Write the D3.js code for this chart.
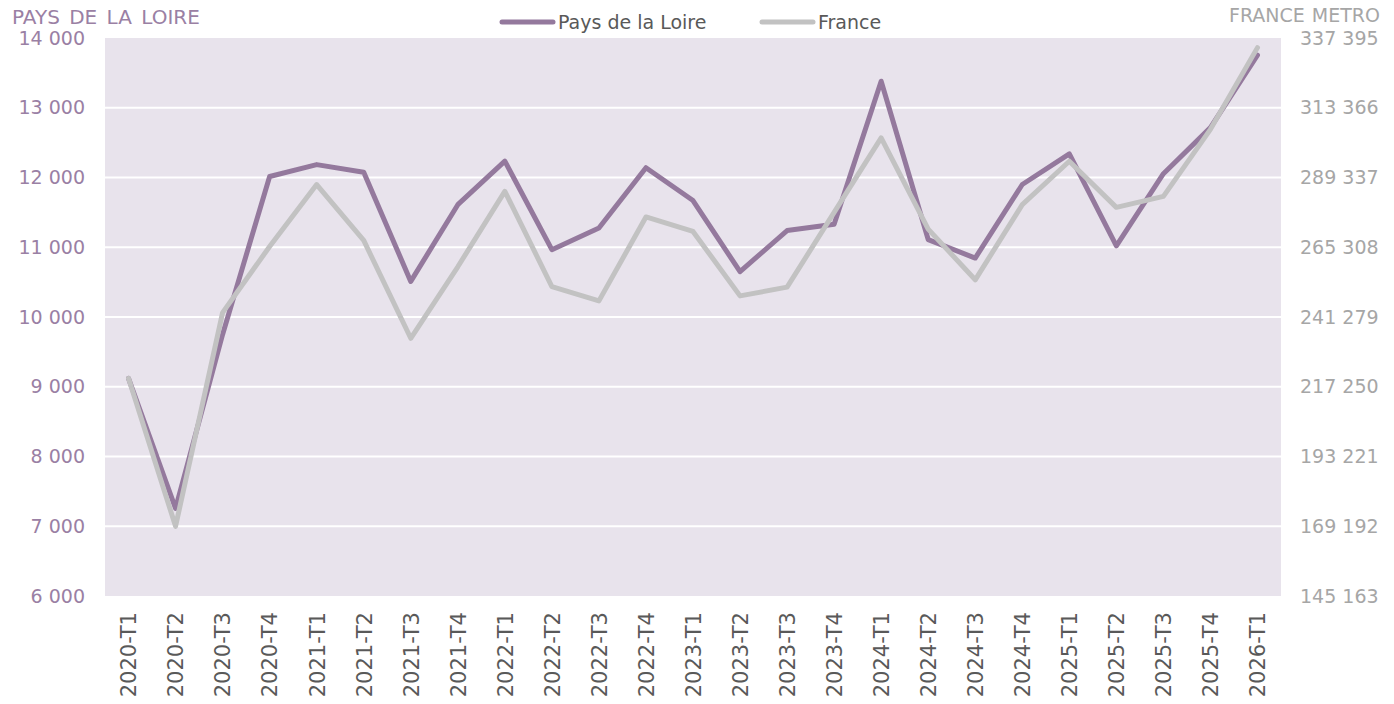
<!DOCTYPE html>
<html>
<head>
<meta charset="utf-8">
<script src="https://cdn.jsdelivr.net/npm/d3@7"></script>
<style>
  body { margin: 0; background: #fff; }
  text { font-family: "DejaVu Sans", Verdana, sans-serif; }
</style>
</head>
<body>
<div id="chart"></div>
<script>
var quarters = ["2020-T1", "2020-T2", "2020-T3", "2020-T4",
  "2021-T1", "2021-T2", "2021-T3", "2021-T4",
  "2022-T1", "2022-T2", "2022-T3", "2022-T4",
  "2023-T1", "2023-T2", "2023-T3", "2023-T4",
  "2024-T1", "2024-T2", "2024-T3", "2024-T4",
  "2025-T1", "2025-T2", "2025-T3", "2025-T4", "2026-T1"];

var paysLoire = [9120, 7255, 9750, 12015, 12185, 12075, 10510, 11610,
  12235, 10965, 11275, 12140, 11670, 10650, 11240, 11330,
  13380, 11110, 10845, 11900, 12340, 11020, 12055, 12715, 13755];

var france = [220160, 169170, 242790, 265570, 286890, 267660, 233950, 258580,
  284580, 251780, 246830, 275740, 270760, 248560, 251560, 277320,
  303010, 271560, 254090, 279990, 294940, 279050, 282850, 305920, 334080];

var leftTicks = [6000, 7000, 8000, 9000, 10000, 11000, 12000, 13000, 14000];
var rightTicks = [145163, 169192, 193221, 217250, 241279, 265308, 289337, 313366, 337395];

var w = 1394,
  h = 704,
  plotLeft = 105,
  plotRight = 1281,
  plotTop = 38,
  plotBottom = 596,
  purple = "#94799d",
  grey = "#c2c2c2";

var fr = d3.formatLocale({ decimal: ",", thousands: " ", grouping: [3], currency: ["", " €"] });
var fmt = fr.format(",d");

var x = d3.scalePoint().domain(quarters).range([plotLeft, plotRight]).padding(0.5);
var yL = d3.scaleLinear().domain([6000, 14000]).range([plotBottom, plotTop]);
var yR = d3.scaleLinear().domain([145163, 337395]).range([plotBottom, plotTop]);

var chart = d3.select("#chart").append("svg")
  .attr("width", w)
  .attr("height", h);

chart.append("rect")
  .attr("x", plotLeft)
  .attr("y", plotTop)
  .attr("width", plotRight - plotLeft)
  .attr("height", plotBottom - plotTop)
  .attr("fill", "#e8e3ec");

// gridlines
chart.append("g").selectAll("line")
  .data(leftTicks.slice(1, -1))
  .join("line")
  .attr("x1", plotLeft)
  .attr("x2", plotRight)
  .attr("y1", function(d) { return yL(d); })
  .attr("y2", function(d) { return yL(d); })
  .attr("stroke", "#fff")
  .attr("stroke-width", 2);

// axes
var leftAxis = chart.append("g")
  .attr("transform", "translate(" + (plotLeft - 20) + ",0)")
  .call(d3.axisLeft(yL).tickValues(leftTicks).tickFormat(fmt).tickSize(0).tickPadding(0));

var rightAxis = chart.append("g")
  .attr("transform", "translate(" + (plotRight + 19) + ",0)")
  .call(d3.axisRight(yR).tickValues(rightTicks).tickFormat(fmt).tickSize(0).tickPadding(0));

var bottomAxis = chart.append("g")
  .attr("transform", "translate(0," + (plotBottom + 16) + ")")
  .call(d3.axisBottom(x).tickSize(0).tickPadding(0));

chart.selectAll(".domain").remove();
chart.selectAll("g").attr("font-family", null).attr("font-size", null);

bottomAxis.selectAll("text")
  .attr("transform", "rotate(-90)")
  .attr("x", 0)
  .attr("y", 0)
  .attr("dy", "0.35em")
  .style("text-anchor", "end")
  .attr("fill", "#595959")
  .attr("font-size", 21);

leftAxis.selectAll("text").attr("fill", "#9a80a4").attr("font-size", 19);
rightAxis.selectAll("text").attr("fill", "#a6a6a6").attr("font-size", 19);

// series
var line = d3.line()
  .x(function(d, i) { return x(quarters[i]); });

chart.append("path")
  .attr("d", line.y(function(d) { return yL(d); })(paysLoire))
  .attr("fill", "none")
  .attr("stroke", purple)
  .attr("stroke-width", 5)
  .attr("stroke-linejoin", "round")
  .attr("stroke-linecap", "round");

chart.append("path")
  .attr("d", line.y(function(d) { return yR(d); })(france))
  .attr("fill", "none")
  .attr("stroke", grey)
  .attr("stroke-width", 5)
  .attr("stroke-linejoin", "round")
  .attr("stroke-linecap", "round");

// axis titles
chart.append("text")
  .attr("x", 12)
  .attr("y", 24)
  .attr("fill", "#9a80a4")
  .attr("font-size", 20)
  .style("word-spacing", "3px")
  .text("PAYS DE LA LOIRE");

chart.append("text")
  .attr("x", 1380)
  .attr("y", 22)
  .attr("text-anchor", "end")
  .attr("fill", "#a6a6a6")
  .attr("font-size", 19)
  .style("word-spacing", "1px")
  .text("FRANCE METRO");

// legend
var legend = [["Pays de la Loire", purple, 500], ["France", grey, 760]];
var lg = chart.append("g").selectAll("g").data(legend).join("g")
  .attr("transform", function(d) { return "translate(" + d[2] + ",22)"; });
lg.append("line")
  .attr("x1", 2).attr("x2", 53)
  .attr("stroke", function(d) { return d[1]; })
  .attr("stroke-width", 5)
  .attr("stroke-linecap", "round");
lg.append("text")
  .attr("x", 58)
  .attr("dy", "0.35em")
  .attr("fill", "#595959")
  .attr("font-size", 19)
  .text(function(d) { return d[0]; });
</script>
</body>
</html>
